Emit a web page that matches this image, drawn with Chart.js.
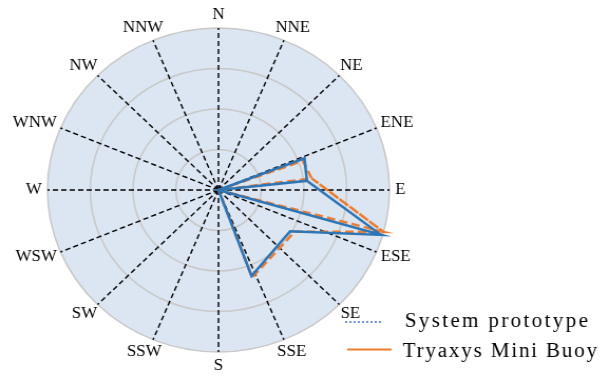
<!DOCTYPE html>
<html>
<head>
<meta charset="utf-8">
<script src="https://cdn.jsdelivr.net/npm/chart.js@4.4.1/dist/chart.umd.min.js"></script>
<style>
  html, body { margin: 0; padding: 0; background: #fff; }
  /* the figure is a little wider than tall, so the whole canvas is stretched */
  #wrap { width: 578px; height: 376px; transform: scaleX(1.0554); transform-origin: 0 0; }
  #rose { display: block; }
</style>
</head>
<body>
<div id="wrap"><canvas id="rose" width="578" height="376"></canvas></div>
<script>
var SLOTS = 288;               // 1.25 degrees per slot
var STEP = 360 / SLOTS;
var PER_DIR = SLOTS / 16;

var dirLabels = ['N', 'NNE', 'NE', 'ENE', 'E', 'ESE', 'SE', 'SSE',
                 'S', 'SSW', 'SW', 'WSW', 'W', 'WNW', 'NW', 'NNW'];
var radialTicks = [0, 5, 10, 15, 20];
var seriesNames = ['System prototype', 'Tryaxys Mini Buoy'];

// bearing (deg from N, clockwise) and value of each vertex
var protoBearing = [68.75, 83.75, 106.25, 121.25, 160];
var protoValue = [10.8, 10.4, 19.8, 9.8, 11.3];
var buoyBearing = [70, 82.5, 105, 120, 160];
var buoyValue = [10.5, 11.0, 20, 10.3, 11.5];
// vertices 1 and 2 are also joined straight back to the centre
var spokeVertices = [1, 2];

function slotOf(b) { return Math.round(b / STEP) % SLOTS; }

// outline: centre -> vertices in order -> centre, dipping to the centre
// between the two spoke vertices
function outlineData(bearings, values) {
    var d = new Array(SLOTS).fill(null);
    d[0] = 0;
    d[SLOTS / 2] = 0;
    bearings.forEach(function (b, i) { d[slotOf(b)] = values[i]; });
    var a = slotOf(bearings[spokeVertices[0]]), c = slotOf(bearings[spokeVertices[1]]);
    d[Math.round((a + c) / 2)] = 0;
    return d;
}

// the one edge the outline skips: between the two spoke vertices
function bridgeData(bearings, values) {
    var d = new Array(SLOTS).fill(null);
    spokeVertices.forEach(function (k) { d[slotOf(bearings[k])] = values[k]; });
    return d;
}

var labels = [];
for (var i = 0; i < SLOTS; i++) {
    labels.push(i % PER_DIR === 0 ? dirLabels[i / PER_DIR] : '');
}

var blue = '#2E75B6';
var orange = '#ED7D31';

var discFill = {
    id: 'discFill',
    beforeDraw: function (chart) {
        var r = chart.scales.r;
        var ctx = chart.ctx;
        ctx.save();
        ctx.beginPath();
        ctx.arc(r.xCenter, r.yCenter, r.drawingArea, 0, Math.PI * 2);
        ctx.fillStyle = '#DCE6F2';
        ctx.fill();
        ctx.restore();
    }
};

// compass names sit centred on their spoke, pushed out by half their size
var compassText = {
    id: 'compassText',
    afterDraw: function (chart) {
        var scale = chart.scales.r;
        var ctx = chart.ctx;
        ctx.save();
        ctx.font = '16px "Liberation Serif", serif';
        ctx.fillStyle = '#000';
        ctx.textAlign = 'center';
        ctx.textBaseline = 'middle';
        dirLabels.forEach(function (txt, k) {
            var idx = k * PER_DIR;
            var p = scale.getPointPosition(idx, scale.drawingArea + 5.5);
            var a = scale.getIndexAngle(idx);
            var w = ctx.measureText(txt).width;
            ctx.fillText(txt, p.x + Math.sin(a) * w / 2, p.y - Math.cos(a) * 8);
        });
        ctx.restore();
    }
};

var keyBox = {
    id: 'keyBox',
    afterDraw: function (chart) {
        var ctx = chart.ctx;
        ctx.save();
        ctx.lineWidth = 1.5;
        ctx.strokeStyle = '#4472C4';
        ctx.setLineDash([2, 2]);
        ctx.beginPath();
        ctx.moveTo(327, 322);
        ctx.lineTo(363, 322);
        ctx.stroke();
        ctx.setLineDash([]);
        ctx.lineWidth = 2;
        ctx.strokeStyle = orange;
        ctx.beginPath();
        ctx.moveTo(329, 349.5);
        ctx.lineTo(371, 349.5);
        ctx.stroke();
        ctx.font = '20px "Liberation Serif", serif';
        ctx.fillStyle = '#000';
        ctx.textBaseline = 'alphabetic';
        ctx.letterSpacing = '2.2px';
        ctx.fillText(seriesNames[0], 383.5, 326.5);
        ctx.letterSpacing = '1.7px';
        ctx.fillText(seriesNames[1], 381.5, 356.5);
        ctx.restore();
    }
};

var rose = document.getElementById('rose');
var roseChart = new Chart(rose, {
    type: 'radar',
    data: {
        labels: labels,
        datasets: [{
            label: seriesNames[0],
            data: outlineData(protoBearing, protoValue),
            borderColor: blue,
            borderWidth: 2.5,
            fill: false
        }, {
            label: seriesNames[0] + ' edge',
            data: bridgeData(protoBearing, protoValue),
            borderColor: blue,
            borderWidth: 2.5,
            fill: false
        }, {
            label: seriesNames[1],
            data: outlineData(buoyBearing, buoyValue),
            borderColor: orange,
            borderWidth: 2.5,
            borderDash: [8, 4],
            fill: false
        }, {
            label: seriesNames[1] + ' edge',
            data: bridgeData(buoyBearing, buoyValue),
            borderColor: orange,
            borderWidth: 2.5,
            borderDash: [8, 4],
            fill: false
        }]
    },
    options: {
        responsive: false,
        devicePixelRatio: 1,
        animation: false,
        spanGaps: true,
        elements: {
            point: { radius: 0, hoverRadius: 0 },
            line: { tension: 0, borderJoinStyle: 'miter' }
        },
        layout: { padding: { left: 45, right: 209, top: 28, bottom: 24 } },
        plugins: {
            legend: { display: false },
            tooltip: { enabled: false }
        },
        scales: {
            r: {
                min: radialTicks[0],
                max: radialTicks[radialTicks.length - 1],
                ticks: { stepSize: radialTicks[1] - radialTicks[0], display: false },
                grid: { circular: true, color: '#C8C8C8', lineWidth: 1.5 },
                angleLines: {
                    color: '#000',
                    lineWidth: function (c) { return c.index % PER_DIR === 0 ? 1.4 : 0; },
                    borderDash: [5, 3]
                },
                pointLabels: { display: false }
            }
        }
    },
    plugins: [discFill, compassText, keyBox]
});
</script>
</body>
</html>
